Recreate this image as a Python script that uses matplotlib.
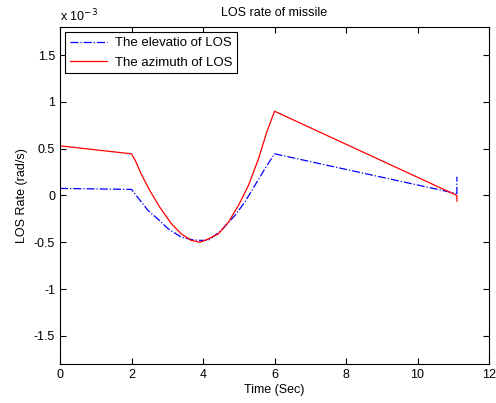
import matplotlib
matplotlib.use("Agg")
import matplotlib.pyplot as plt

plt.rcParams["font.family"] = ["Liberation Sans", "DejaVu Sans"]
plt.rcParams["axes.unicode_minus"] = False

# Time samples (s) and LOS rates in units of 1e-3 rad/s
t_elev = [0, 2, 2.09, 2.46, 2.79, 3.02, 3.39, 3.72, 3.95, 4.15, 4.52, 4.90,
          5.17, 5.45, 5.73, 6.0, 11.1, 11.1]
elev = [0.075, 0.065, 0.02, -0.16, -0.27, -0.355, -0.445, -0.475, -0.48, -0.48,
        -0.37, -0.21, -0.07, 0.107, 0.285, 0.445, 0.02, 0.20]

t_azim = [0, 2, 2.11, 2.27, 2.51, 2.79, 3.11, 3.39, 3.67, 3.91, 4.06, 4.43,
          4.71, 4.99, 5.27, 5.55, 5.78, 6.0, 11.1, 11.1]
azim = [0.53, 0.445, 0.37, 0.23, 0.053, -0.125, -0.30, -0.41, -0.48, -0.50,
        -0.48, -0.41, -0.285, -0.107, 0.107, 0.39, 0.675, 0.90, 0.0, -0.06]

yticks = [-1.5, -1, -0.5, 0, 0.5, 1, 1.5]
yticklabels = ["-1.5", "-1", "-0.5", "0", "0.5", "1", "1.5"]

fig = plt.figure(figsize=(4.96, 4.03), dpi=100)
ax = fig.add_axes([0.121, 0.097, 0.865, 0.836])

ax.plot(t_elev, elev, "b-.", lw=0.9, label="The elevatio of LOS")
ax.plot(t_azim, azim, "r-", lw=0.9, label="The azimuth of LOS")

ax.set_xlim(0, 12)
ax.set_ylim(-1.8, 1.8)
ax.set_xticks(range(0, 13, 2))
ax.set_yticks(yticks)
ax.set_yticklabels(yticklabels)
ax.tick_params(direction="in", top=True, right=True, labelsize=9, length=4, width=0.8)
for s in ax.spines.values():
    s.set_linewidth(0.8)

ax.set_xlabel("Time (Sec)", fontsize=9, labelpad=2)
ax.set_ylabel("LOS Rate (rad/s)", fontsize=9, labelpad=4)
ax.set_title("LOS rate of missile", fontsize=9, pad=8)
ax.text(0, 1.0075, "x 10$^{-3}$", transform=ax.transAxes, fontsize=9, ha="left", va="bottom")

leg = ax.legend(loc="upper left", prop={"size": 9.5}, fancybox=False, framealpha=1,
                edgecolor="black", borderaxespad=0.4, handlelength=2.8,
                handletextpad=0.6, borderpad=0.35, labelspacing=0.55)
leg.get_frame().set_linewidth(0.8)

fig.savefig("out.png", dpi=100)
